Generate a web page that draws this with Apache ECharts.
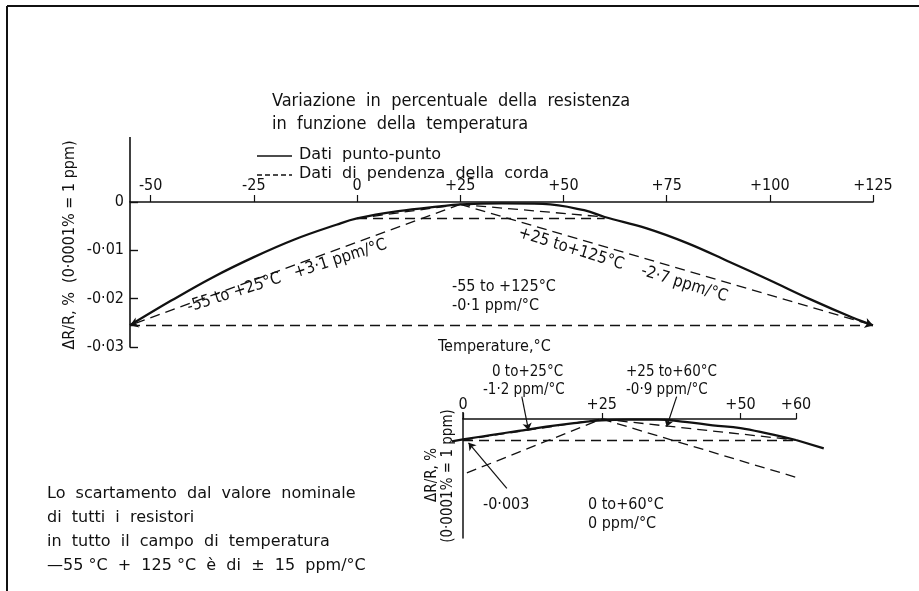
<!DOCTYPE html>
<html>
<head>
<meta charset="utf-8">
<script src="https://cdn.jsdelivr.net/npm/echarts@6/dist/echarts.min.js"></script>
<style>html,body{margin:0;padding:0;background:#fff;}#c{width:919px;height:591px;}</style>
</head>
<body>
<div id="c"></div>
<script>
// ---- Main chart data (temperature °C, ΔR/R %) ----
const mainTemps   = [-55, -45, -35, -25, -15, -5, 0, 10, 20, 25, 35, 45, 55, 60, 70, 80, 90, 100, 110, 120, 125];
const mainDeltaR  = [-0.0255, -0.0204, -0.0156, -0.0114, -0.0077, -0.0047, -0.0034, -0.0019, -0.0009, -0.0005, -0.0003, -0.0004, -0.0017, -0.0031, -0.0054, -0.0085, -0.0123, -0.0162, -0.0202, -0.0239, -0.0255];
// chord (slope) lines: [[t1, v1], [t2, v2]]
const mainChords = [
  [[25, -0.0005], [-55, -0.0255]],
  [[25, -0.0005], [125, -0.0255]],
  [[-55, -0.0255], [125, -0.0255]],
  [[0, -0.0033], [60, -0.0033]],
  [[0, -0.0034], [25, -0.0005]],
  [[25, -0.0005], [60, -0.0031]]
];
const mainXTicks = [-50, -25, 0, 25, 50, 75, 100, 125];
const mainYTicks = [-0.03, -0.02, -0.01, 0];

// ---- Inset (enlarged 0..60 °C) ----
const insetTemps  = [-2, 0, 5, 10, 15, 20, 25, 30, 35, 40, 45, 50, 55, 60, 65];
const insetDeltaR = [-0.0032, -0.0029, -0.0023, -0.0017, -0.0011, -0.0006, -0.0002, -0.0001, -0.0001, -0.0004, -0.0009, -0.0013, -0.0021, -0.003, -0.0042];
const insetChords = [
  [[0, -0.003], [25, 0]],
  [[25, 0], [60, -0.003]],
  [[0, -0.0031], [60, -0.0031]],
  [[0.7, -0.0077], [25, 0]],
  [[25, 0], [60.7, -0.0085]]
];
const insetPointers = [
  [[10.6, 0.0032], [11.8, -0.0016]],
  [[38.5, 0.0032], [36.7, -0.0011]],
  [[7.9, -0.0099], [1.0, -0.0034]]
];
const insetXTicks = [0, 25, 50, 60];

const INK = '#111';
const CF = '"DejaVu Sans Condensed", "DejaVu Sans", sans-serif';
const HF = '"DejaVu Sans", "Liberation Sans", sans-serif';

const fmtX = v => v > 0 ? '+' + v : (v < 0 ? '-' + Math.abs(v) : '0');
const fmtY = v => Math.abs(v) < 1e-9 ? '0' : '-' + Math.abs(v).toFixed(2).replace('.', '·');

function txt(x, y, text, font, opts) {
  opts = opts || {};
  return {
    type: 'text', x: x, y: y, rotation: opts.rot || 0, silent: true,
    style: {
      text: text, font: font, fill: INK,
      align: opts.align || 'left', textAlign: opts.align || 'left',
      verticalAlign: 'middle', textVerticalAlign: 'middle'
    }
  };
}
function seg(x1, y1, x2, y2, w, dash) {
  return { type: 'line', silent: true, shape: { x1: x1, y1: y1, x2: x2, y2: y2 },
    style: { stroke: INK, lineWidth: w, lineDash: dash || null } };
}

const chart = echarts.init(document.getElementById('c'), null, { renderer: 'canvas' });

const series = [];
series.push({
  type: 'line', xAxisIndex: 0, yAxisIndex: 0, smooth: 0.4, showSymbol: false, silent: true, clip: false,
  data: mainTemps.map((t, i) => [t, mainDeltaR[i]]),
  lineStyle: { color: INK, width: 2.3 }, z: 5
});
mainChords.forEach((c, i) => {
  series.push({
    type: 'lines', coordinateSystem: 'cartesian2d', xAxisIndex: 0, yAxisIndex: 0, silent: true, clip: false,
    symbol: i < 2 ? ['none', 'arrow'] : ['none', 'none'], symbolSize: 8,
    data: [{ coords: c }],
    lineStyle: { color: INK, width: 1.3, type: [10, 6], opacity: 1 }, z: 4
  });
});
// inset curve: in-range part smooth, the short overhangs beyond the axis as polylines
const insetPts = insetTemps.map((t, i) => [t, insetDeltaR[i]]);
series.push({
  type: 'line', xAxisIndex: 1, yAxisIndex: 1, smooth: 0.4, showSymbol: false, silent: true, clip: false,
  data: insetPts.filter(p => p[0] >= 0 && p[0] <= 60),
  lineStyle: { color: INK, width: 2.2 }, z: 5
});
series.push({
  type: 'lines', coordinateSystem: 'cartesian2d', xAxisIndex: 1, yAxisIndex: 1, silent: true, clip: false,
  polyline: true, symbol: ['none', 'none'],
  data: [
    { coords: insetPts.filter(p => p[0] <= 0) },
    { coords: insetPts.filter(p => p[0] >= 60) }
  ],
  lineStyle: { color: INK, width: 2.2, type: 'solid', opacity: 1 }, z: 5
});
insetChords.forEach(c => {
  series.push({
    type: 'lines', coordinateSystem: 'cartesian2d', xAxisIndex: 1, yAxisIndex: 1, silent: true, clip: false,
    symbol: ['none', 'none'], data: [{ coords: c }],
    lineStyle: { color: INK, width: 1.3, type: [10, 6], opacity: 1 }, z: 4
  });
});
insetPointers.forEach(c => {
  series.push({
    type: 'lines', coordinateSystem: 'cartesian2d', xAxisIndex: 1, yAxisIndex: 1, silent: true, clip: false,
    symbol: ['none', 'arrow'], symbolSize: 7, data: [{ coords: c }],
    lineStyle: { color: INK, width: 1.2, type: 'solid', opacity: 1 }, z: 6
  });
});

const option = {
  animation: false,
  backgroundColor: '#fff',
  grid: [
    { left: 130, top: 202, width: 743, height: 145 },
    { left: 463, top: 419, width: 333, height: 119 }
  ],
  xAxis: [
    {
      type: 'value', gridIndex: 0, min: -55, max: 125, position: 'top',
      axisLine: { show: true, onZero: false, lineStyle: { color: INK, width: 1.6 } },
      axisTick: { show: true, inside: false, length: 7, customValues: mainXTicks, lineStyle: { color: INK, width: 1.2 } },
      axisLabel: { show: true, inside: false, margin: 8, customValues: mainXTicks, formatter: fmtX,
        color: INK, fontSize: 16, fontFamily: CF },
      splitLine: { show: false }
    },
    {
      type: 'value', gridIndex: 1, min: 0, max: 60, position: 'top',
      axisLine: { show: true, onZero: false, lineStyle: { color: INK, width: 1.5 } },
      axisTick: { show: true, inside: false, length: 6, customValues: insetXTicks, lineStyle: { color: INK, width: 1.2 } },
      axisLabel: { show: true, inside: false, margin: 6, customValues: insetXTicks, formatter: fmtX,
        color: INK, fontSize: 16, fontFamily: CF },
      splitLine: { show: false }
    }
  ],
  yAxis: [
    {
      type: 'value', gridIndex: 0, min: -0.03, max: 0, interval: 0.01,
      axisLine: { show: true, onZero: false, lineStyle: { color: INK, width: 1.6 } },
      axisTick: { show: true, inside: true, length: 8, customValues: mainYTicks, lineStyle: { color: INK, width: 1.4 } },
      axisLabel: { show: true, margin: 6, customValues: mainYTicks, formatter: fmtY,
        color: INK, fontSize: 16, fontFamily: CF },
      splitLine: { show: false }
    },
    {
      type: 'value', gridIndex: 1, min: -0.017, max: 0,
      axisLine: { show: true, onZero: false, lineStyle: { color: INK, width: 1.5 } },
      axisTick: { show: false }, axisLabel: { show: false }, splitLine: { show: false }
    }
  ],
  series: series,
  graphic: [
    // frame
    seg(7, 6, 919, 6, 2), seg(7, 6, 7, 591, 2),
    // axis line extensions above zero
    seg(130, 137, 130, 202, 1.6), seg(463, 412, 463, 419, 1.5),
    // title
    txt(272, 101, 'Variazione  in  percentuale  della  resistenza', '18px ' + CF),
    txt(272, 124, 'in  funzione  della  temperatura', '18px ' + CF),
    // legend
    seg(257, 156, 292, 156, 1.6),
    txt(299, 155, 'Dati  punto-punto', '16px ' + HF),
    seg(257, 175, 292, 175, 1.4, [5, 3]),
    txt(299, 174, 'Dati  di  pendenza  della  corda', '16px ' + HF),
    // main y-axis name
    txt(70, 245, 'ΔR/R, %  (0·0001% = 1 ppm)', '16px ' + CF, { rot: Math.PI / 2, align: 'center' }),
    // main annotations
    txt(287, 276, '-55 to +25°C   +3·1 ppm/°C', '16.5px ' + CF, { rot: 0.31, align: 'center' }),
    txt(623, 265, '+25 to+125°C    -2·7 ppm/°C', '16.5px ' + CF, { rot: -0.3, align: 'center' }),
    txt(452, 287, '-55 to +125°C', '16px ' + CF),
    txt(452, 306, '-0·1 ppm/°C', '16px ' + CF),
    txt(438, 347, 'Temperature,°C', '16px ' + CF),
    // inset annotations
    txt(492, 372, '0 to+25°C', '15px ' + CF),
    txt(483, 390, '-1·2 ppm/°C', '15px ' + CF),
    txt(626, 372, '+25 to+60°C', '15px ' + CF),
    txt(626, 390, '-0·9 ppm/°C', '15px ' + CF),
    txt(483, 505, '-0·003', '16px ' + CF),
    txt(588, 505, '0 to+60°C', '16px ' + CF),
    txt(588, 524, '0 ppm/°C', '16px ' + CF),
    txt(432, 475, 'ΔR/R, %', '15px ' + CF, { rot: Math.PI / 2, align: 'center' }),
    txt(448, 476, '(0·0001% = 1 ppm)', '15px ' + CF, { rot: Math.PI / 2, align: 'center' }),
    // note
    txt(47, 494, 'Lo  scartamento  dal  valore  nominale', '16px ' + HF),
    txt(47, 518, 'di  tutti  i  resistori', '16px ' + HF),
    txt(47, 542, 'in  tutto  il  campo  di  temperatura', '16px ' + HF),
    txt(47, 566, '—55 °C  +  125 °C  è  di  ±  15  ppm/°C', '16px ' + HF)
  ]
};
chart.setOption(option);
</script>
</body>
</html>
